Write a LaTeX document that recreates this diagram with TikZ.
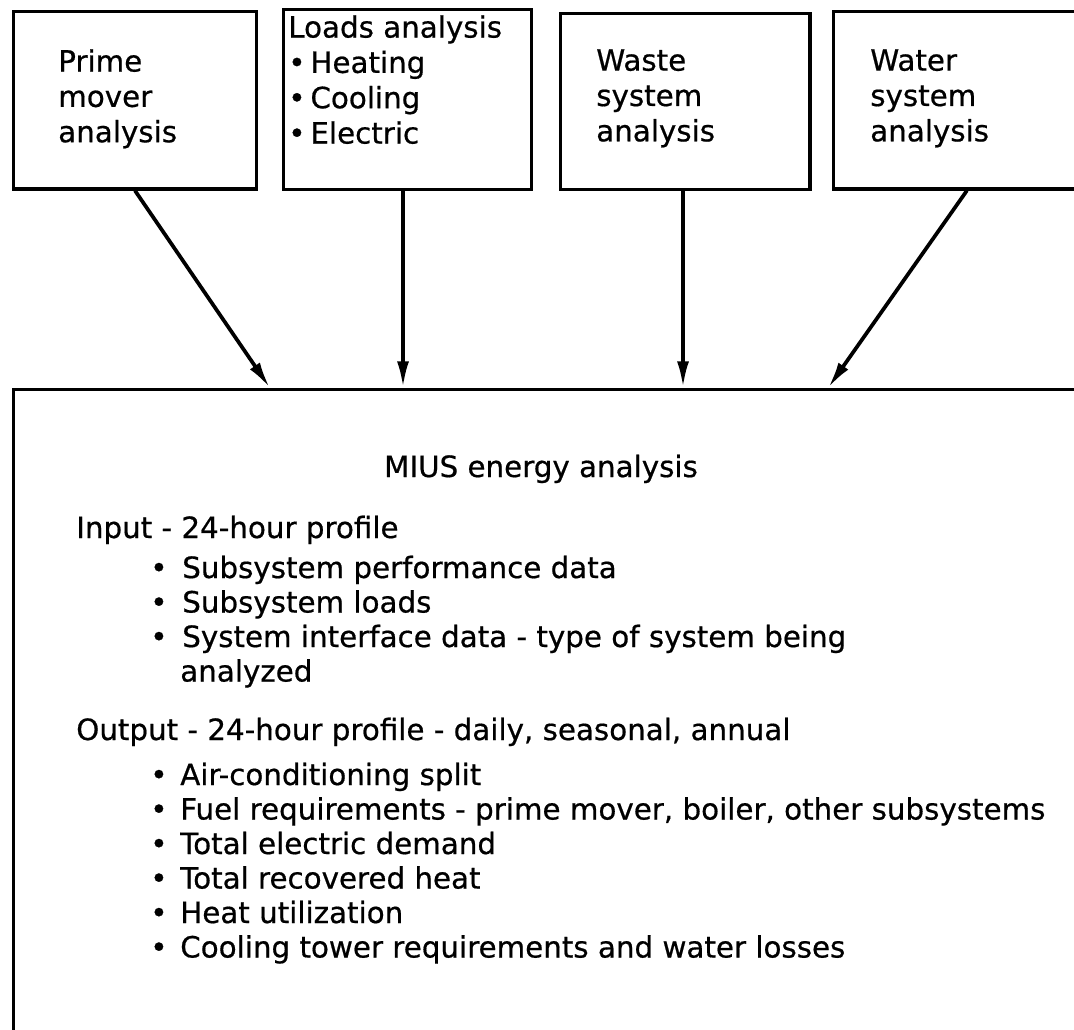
\documentclass[tikz,border=0pt]{standalone}
\usepackage{fontspec}
\setmainfont[FakeBold=0.6]{DejaVu Sans}
\usetikzlibrary{arrows.meta, positioning}

\tikzset{
  inbox/.style={draw, line width=2.4pt, inner sep=0pt, anchor=north west},
  boxtxt/.style={anchor=north west, inner sep=0pt, align=left, font=\fontsize{22}{26.5}\selectfont},
  line/.style={anchor=base west, inner sep=0pt, font=\fontsize{22}{26}\selectfont},
  feed/.style={line width=2.8pt, -{Latex[length=20pt, width=9pt]}}
}

\begin{document}
\begin{tikzpicture}[x=0.75pt, y=-0.75pt]
  \useasboundingbox (0,0) rectangle (1074,1029);
  \clip (0,0) rectangle (1074,1029);
  \fill[white] (0,0) rectangle (1074,1029);

  % Input boxes
  \node[inbox, minimum width=182pt, minimum height=133pt] (prime) at (12,10) {};
  \node[inbox, minimum width=186pt, minimum height=135pt] (loads) at (282,8) {};
  \node[inbox, minimum width=187pt, minimum height=132pt] (waste) at (559,12) {};
  \node[inbox, minimum width=200pt, minimum height=133pt] (water) at (832,10) {};

  \node[boxtxt] (primetxt) at (58,49) {Prime\\mover\\analysis};
  \node[boxtxt] (loadstxt) at (288,15) {Loads analysis\\\textbullet\,Heating\\\textbullet\,Cooling\\\textbullet\,Electric};
  \node[boxtxt] (wastetxt) at (596,49) {Waste\\system\\analysis};
  \node[boxtxt] (watertxt) at (870,49) {Water\\system\\analysis};

  % Energy analysis box
  \node[inbox, minimum width=825pt, minimum height=525pt] (mius) at (12,388) {};
  \coordinate (in1) at (270,388);
  \coordinate (in2) at (403,388);
  \coordinate (in3) at (683,388);
  \coordinate (in4) at (828,388);

  \draw[feed] (prime.south) -- (in1);
  \draw[feed] (loads.south -| in2) -- (in2);
  \draw[feed] (waste.south -| in3) -- (in3);
  \draw[feed] (water.south) -- (in4);

  \node[line, anchor=base] (title) at (541,477) {MIUS energy analysis};

  % Input
  \node[line] (input) at (76,538) {Input - 24-hour profile};
  \node[line] (b1) at (150,578) {\textbullet};
  \node[line] (i1) at (182,578) {Subsystem performance data};
  \node[line] (b2) at (150,612.5) {\textbullet};
  \node[line] (i2) at (182,612.5) {Subsystem loads};
  \node[line] (b3) at (150,647) {\textbullet};
  \node[line] (i3) at (182,647) {System interface data - type of system being};
  \node[line] (i3b) at (180,681.5) {analyzed};

  % Output
  \node[line] (output) at (76,740) {Output - 24-hour profile - daily, seasonal, annual};
  \node[line] (o1b) at (150,785) {\textbullet};
  \node[line] (o1) at (180,785) {Air-conditioning split};
  \node[line] (o2b) at (150,819.5) {\textbullet};
  \node[line] (o2) at (180,819.5) {Fuel requirements - prime mover, boiler, other subsystems};
  \node[line] (o3b) at (150,854) {\textbullet};
  \node[line] (o3) at (180,854) {Total electric demand};
  \node[line] (o4b) at (150,888.5) {\textbullet};
  \node[line] (o4) at (180,888.5) {Total recovered heat};
  \node[line] (o5b) at (150,923) {\textbullet};
  \node[line] (o5) at (180,923) {Heat utilization};
  \node[line] (o6b) at (150,957.5) {\textbullet};
  \node[line] (o6) at (180,957.5) {Cooling tower requirements and water losses};
\end{tikzpicture}
\end{document}
